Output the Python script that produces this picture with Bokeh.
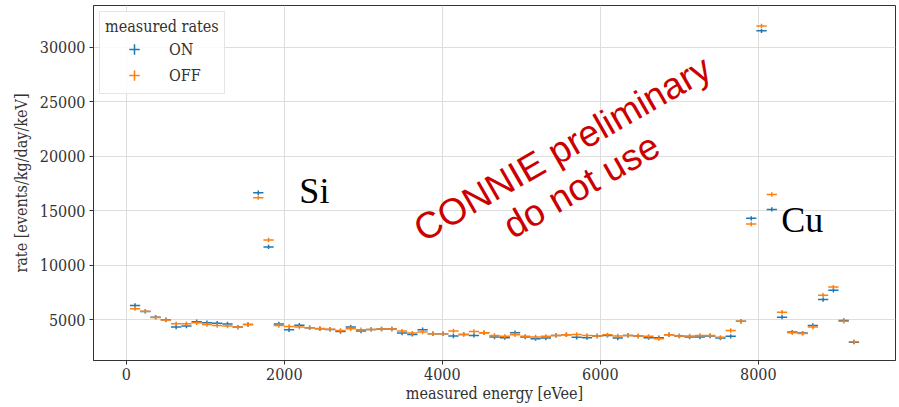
from bokeh.plotting import figure
from bokeh.models import (Range1d, Legend, LegendItem, ColumnDataSource,
                          FixedTicker, Label)
from bokeh.embed import file_html
from bokeh.resources import INLINE

# ---------------- data ----------------
energy = [110, 240, 370, 500, 630, 760, 890, 1020, 1150, 1280, 1410, 1540,
          1670, 1800, 1930, 2060, 2190, 2320, 2450, 2580, 2710, 2840, 2970,
          3100, 3230, 3360, 3490, 3620, 3750, 3880, 4010, 4140, 4270, 4400,
          4530, 4660, 4790, 4920, 5050, 5180, 5310, 5440, 5570, 5700, 5830,
          5960, 6090, 6220, 6350, 6480, 6610, 6740, 6870, 7000, 7130, 7260,
          7390, 7520, 7650, 7780, 7910, 8040, 8170, 8300, 8430, 8560, 8690,
          8820, 8950, 9080, 9210]

rate_on = [6320, 5770, 5240, 5000, 4330, 4420, 4820, 4730, 4680, 4610, 4330,
           4570, 16650, 11680, 4620, 4090, 4510, 4270, 4180, 4120, 3920,
           4330, 3960, 4120, 4150, 4150, 3780, 3660, 4090, 3720, 3720, 3510,
           3660, 3570, 3810, 3420, 3360, 3810, 3420, 3270, 3330, 3570, 3630,
           3390, 3360, 3510, 3570, 3320, 3570, 3510, 3360, 3360, 3630, 3510,
           3420, 3420, 3510, 3320, 3480, 4870, 14300, 31500, 15120, 5240,
           3870, 3780, 4480, 6850, 7700, 4940, 2950]

rate_off = [6020, 5790, 5220, 4970, 4640, 4640, 4720, 4570, 4480, 4420, 4330,
            4570, 16200, 12320, 4480, 4390, 4330, 4270, 4200, 4140, 4020,
            4180, 4090, 4120, 4150, 4150, 3960, 3780, 3870, 3720, 3720, 3970,
            3660, 3930, 3810, 3570, 3480, 3630, 3480, 3420, 3480, 3570, 3630,
            3660, 3570, 3510, 3620, 3510, 3570, 3510, 3480, 3270, 3630, 3510,
            3510, 3570, 3570, 3390, 4020, 4870, 13780, 31950, 16490, 5700,
            3820, 3750, 4330, 7250, 8000, 4870, 2990]

bin_half_width = 65
rate_err = 200

x_ticks = [0, 2000, 4000, 6000, 8000]
y_ticks = [5000, 10000, 15000, 20000, 25000, 30000]

ON_COLOR = "#1f77b4"
OFF_COLOR = "#ff7f0e"
SERIF = "DejaVu Serif Condensed, DejaVu Serif"

# ---------------- figure ----------------
p = figure(width=899, height=407, output_backend="svg", toolbar_location=None,
           x_range=Range1d(-416, 9736), y_range=Range1d(1266, 33822),
           min_border_left=93, min_border_right=4, min_border_top=5,
           min_border_bottom=47)
p.background_fill_color = "white"
p.border_fill_color = "white"
p.outline_line_color = "#333333"
p.outline_line_width = 1

def add_series(rates, color):
    src = ColumnDataSource(dict(
        x=energy,
        y=rates,
        xl=[e - bin_half_width for e in energy],
        xr=[e + bin_half_width for e in energy],
        yl=[r - rate_err for r in rates],
        yh=[r + rate_err for r in rates],
    ))
    p.segment(x0="xl", y0="y", x1="xr", y1="y", source=src,
              line_color=color, line_width=1.5)
    p.segment(x0="x", y0="yl", x1="x", y1="yh", source=src,
              line_color=color, line_width=1.5)
    # marker renderer whose one point lies outside the view: legend symbol only
    return p.scatter(x=[-100000], y=[-100000], marker="cross", size=12,
                     line_color=color, line_width=1.5)

leg_on = add_series(rate_on, ON_COLOR)
leg_off = add_series(rate_off, OFF_COLOR)

# ---------------- axes ----------------
p.xaxis.ticker = FixedTicker(ticks=x_ticks)
p.yaxis.ticker = FixedTicker(ticks=y_ticks)
p.xaxis.axis_label = "measured energy [eVee]"
p.yaxis.axis_label = "rate [events/kg/day/keV]"
for ax in (p.xaxis, p.yaxis):
    ax.axis_label_text_font = SERIF
    ax.axis_label_text_font_size = "16px"
    ax.axis_label_text_font_style = "normal"
    ax.axis_label_text_color = "#333333"
    ax.major_label_text_font = SERIF
    ax.major_label_text_font_size = "16px"
    ax.major_label_text_color = "#333333"
    ax.minor_tick_line_color = None
    ax.major_tick_in = 0
    ax.major_tick_out = 4
    ax.major_tick_line_color = "#333333"
    ax.axis_line_color = "#333333"
p.yaxis.major_label_standoff = 4
p.yaxis.axis_label_standoff = 6
p.xaxis.major_label_standoff = 3
p.xaxis.axis_label_standoff = 1
p.yaxis.formatter.use_scientific = False

p.xgrid.grid_line_color = "#dedede"
p.ygrid.grid_line_color = "#dedede"
p.xgrid.ticker = FixedTicker(ticks=x_ticks)
p.ygrid.ticker = FixedTicker(ticks=y_ticks)

# ---------------- legend ----------------
legend = Legend(items=[LegendItem(label="ON", renderers=[leg_on]),
                       LegendItem(label="OFF", renderers=[leg_off])],
                location="top_left", title="measured rates")
legend.title_text_font = SERIF
legend.title_text_font_size = "16px"
legend.title_text_font_style = "normal"
legend.title_text_color = "#333333"
legend.title_standoff = 0
legend.label_text_font = SERIF
legend.label_text_font_size = "16px"
legend.label_text_color = "#333333"
legend.glyph_width = 58
legend.glyph_height = 26
legend.spacing = 0
legend.padding = 5
legend.margin = 6
legend.label_standoff = 6
legend.border_line_color = "#cccccc"
legend.background_fill_alpha = 0.85
p.add_layout(legend)

# ---------------- annotations ----------------
p.add_layout(Label(x=2190, y=16800, text="Si", text_font="Liberation Serif",
                   text_font_size="36px", text_color="black",
                   text_baseline="alphabetic"))
p.add_layout(Label(x=8290, y=14150, text="Cu", text_font="Liberation Serif",
                   text_font_size="36px", text_color="black",
                   text_baseline="alphabetic"))
p.add_layout(Label(x=5520, y=20700, text="CONNIE preliminary", angle=0.52,
                   text_align="center", text_baseline="middle",
                   text_font="Liberation Sans", text_font_size="37px",
                   text_color="#cc0000"))
p.add_layout(Label(x=5760, y=17300, text="do not use", angle=0.52,
                   text_align="center", text_baseline="middle",
                   text_font="Liberation Sans", text_font_size="37px",
                   text_color="#cc0000"))

open("out.html", "w").write(file_html(p, INLINE))
